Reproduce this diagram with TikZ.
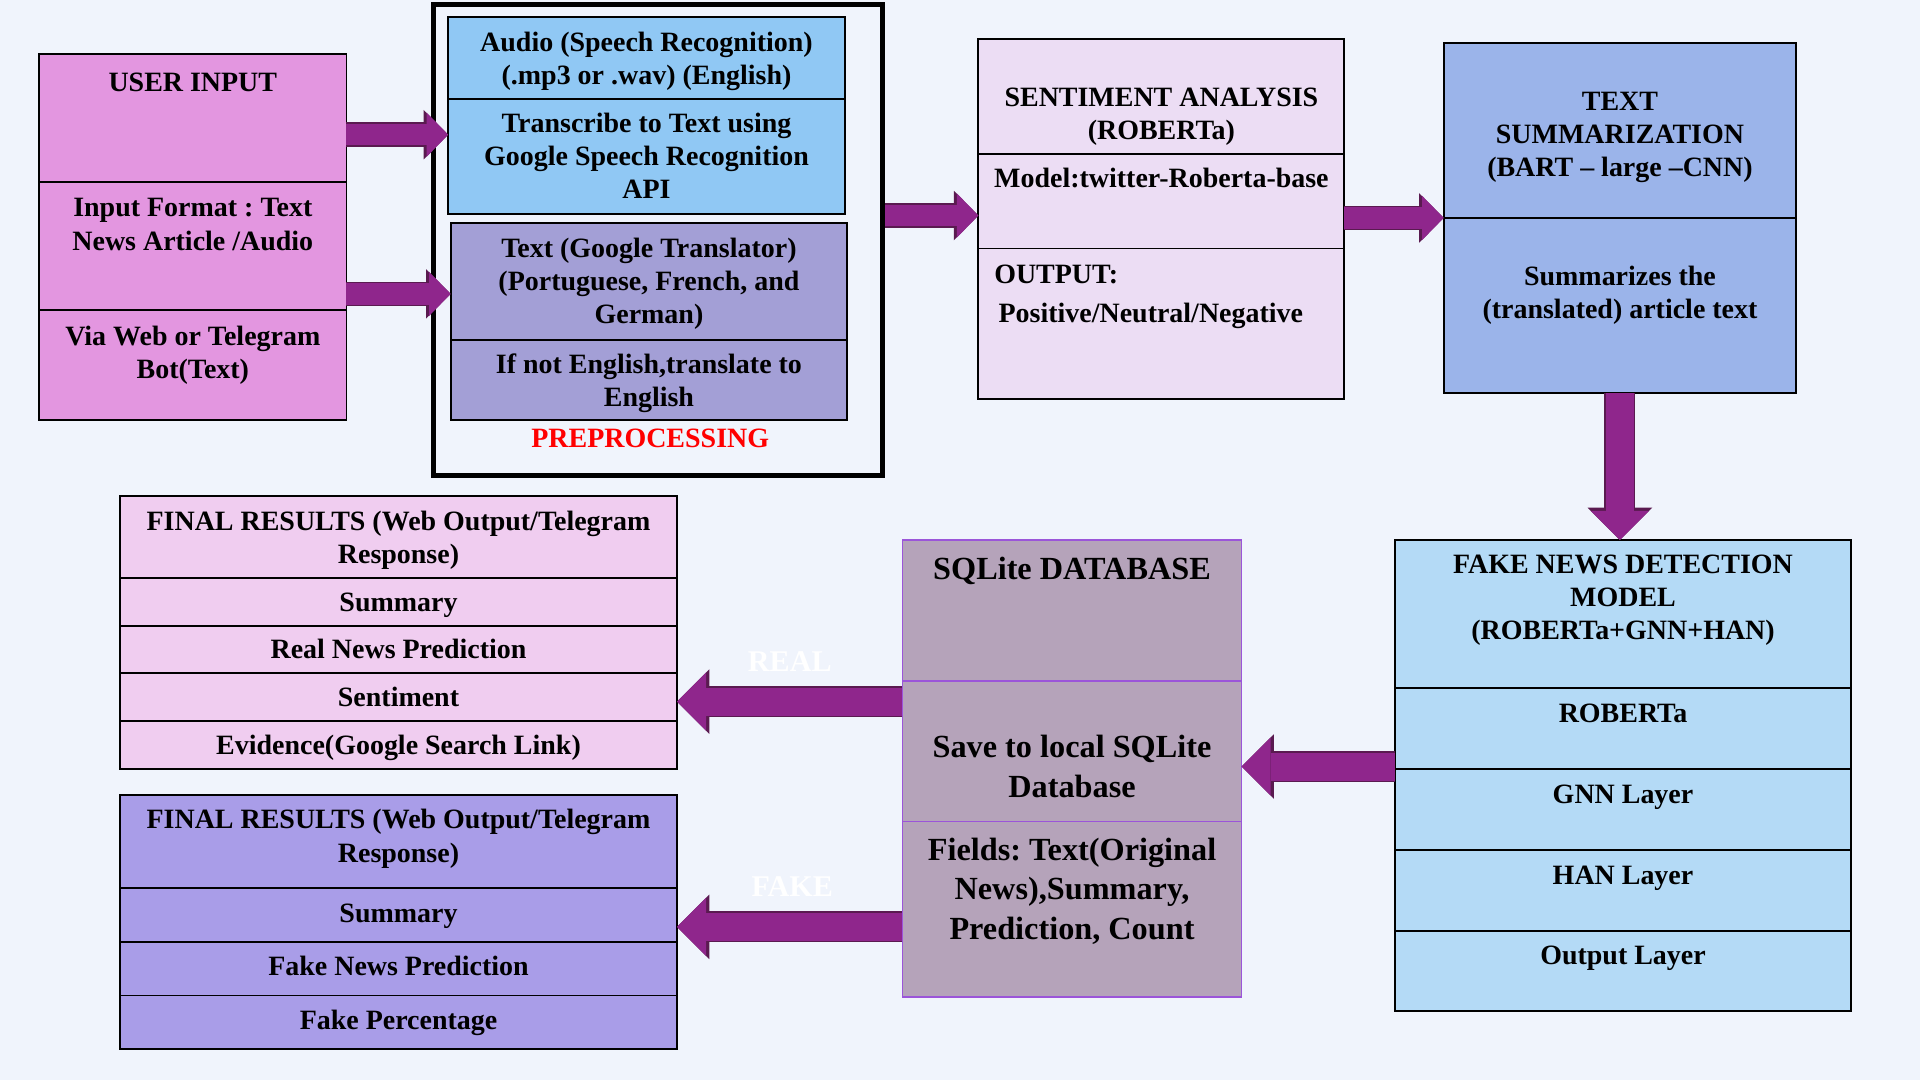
\documentclass[tikz,border=0pt]{standalone}
\usepackage{fontspec}
\setmainfont{Liberation Serif}
\usetikzlibrary{positioning, arrows.meta}
\frenchspacing

\definecolor{bgcol}{HTML}{F0F4FC}
\definecolor{usrcol}{HTML}{E396E0}
\definecolor{audcol}{HTML}{90C8F4}
\definecolor{trncol}{HTML}{A39FD6}
\definecolor{sntcol}{HTML}{ECDDF4}
\definecolor{sumcol}{HTML}{9BB4EA}
\definecolor{fndcol}{HTML}{B4DAF6}
\definecolor{dbcol}{HTML}{B5A3BA}
\definecolor{dbedge}{HTML}{9B55D9}
\definecolor{realcol}{HTML}{F0CDF0}
\definecolor{fakecol}{HTML}{A99DE8}
\definecolor{arrfill}{HTML}{8F268C}
\definecolor{arredge}{HTML}{5A1A50}

\newcommand{\boxfont}{\bfseries\fontsize{13}{15.5}\selectfont}
\newcommand{\dbfont}{\bfseries\fontsize{15}{18.2}\selectfont}

\tikzset{
  cell/.style n args={3}{draw, line width=0.9pt, anchor=north west, inner xsep=0pt, inner ysep=0pt, outer sep=0pt,
    align=flush center, text width=#1, text height=#2, text depth=#3, font=\boxfont},
  dbcell/.style={draw=dbedge, line width=0.8pt, fill=dbcol, font=\dbfont},
  flow/.style={line width=10pt, draw=arrfill, -{Triangle[length=10pt, width=20.5pt, line width=0pt]},
    preaction={draw=arredge, line width=11.4pt, -{Triangle[length=11.4pt, width=23pt, line width=0pt]}}},
  bigflow/.style={line width=13pt, draw=arrfill, -{Triangle[length=13.5pt, width=27pt, line width=0pt]},
    preaction={draw=arredge, line width=14.4pt, -{Triangle[length=15pt, width=30pt, line width=0pt]}}},
  tag/.style={font=\bfseries\fontsize{14}{16}\selectfont, text=white}
}

\begin{document}
\begin{tikzpicture}[x=0.02cm, y=-0.02cm]
    \fill[bgcol] (0,0) rectangle (1568,882);

    \node[draw, line width=2.3pt, minimum width=7.34cm, minimum height=7.68cm] (prep) at (537.5,196) {};

    \node[cell={5.02cm}{0.62cm}{1.48cm}, fill=usrcol] (usr1) at (32,44) {USER INPUT};
    \node[cell={5.02cm}{0.56cm}{1.52cm}, fill=usrcol, below=0pt of usr1] (usr2) {Input Format : Text\\News Article /Audio};
    \node[cell={5.02cm}{0.58cm}{1.22cm}, fill=usrcol, below=0pt of usr2] (usr3) {Via Web or Telegram\\Bot(Text)};

    \node[cell={6.48cm}{0.56cm}{0.78cm}, fill=audcol] (aud1) at (366,14) {Audio (Speech Recognition)\\(.mp3 or .wav) (English)};
    \node[cell={6.48cm}{0.54cm}{1.34cm}, fill=audcol, below=0pt of aud1] (aud2) {Transcribe to Text using\\Google Speech Recognition\\API};
    \node[cell={6.48cm}{0.56cm}{1.36cm}, fill=trncol] (trn1) at (368,182) {Text (Google Translator)\\(Portuguese, French, and\\German)};
    \node[cell={6.48cm}{0.54cm}{0.76cm}, fill=trncol, below=0pt of trn1] (trn2) {If not English,translate to\\English};
    \node[font=\boxfont, text=red] (preplbl) at (531,358) {PREPROCESSING};

    \node[cell={5.98cm}{1.10cm}{0.78cm}, fill=sntcol] (snt1) at (799,32) {SENTIMENT ANALYSIS\\(ROBERTa)};
    \node[cell={5.98cm}{0.54cm}{1.00cm}, fill=sntcol, below=0pt of snt1] (snt2) {Model:twitter-Roberta-base};
    \node[cell={5.46cm}{0.57cm}{1.89cm}, fill=sntcol, inner xsep=0.26cm, align=flush left, below=0pt of snt2] (snt3) {OUTPUT:\\[2.5pt]\hspace*{2pt}Positive/Neutral/Negative};

    \node[cell={5.76cm}{1.10cm}{1.76cm}, fill=sumcol] (sum1) at (1179,35) {TEXT\\SUMMARIZATION\\(BART – large –CNN)};
    \node[cell={5.76cm}{1.10cm}{1.76cm}, fill=sumcol, below=0pt of sum1] (sum2) {Summarizes the\\(translated) article text};

    \node[cell={7.46cm}{0.54cm}{1.88cm}, fill=fndcol] (fnd1) at (1139,441) {FAKE NEWS DETECTION\\MODEL\\(ROBERTa+GNN+HAN)};
    \node[cell={7.46cm}{0.56cm}{0.76cm}, fill=fndcol, below=0pt of fnd1] (fnd2) {ROBERTa};
    \node[cell={7.46cm}{0.56cm}{0.76cm}, fill=fndcol, below=0pt of fnd2] (fnd3) {GNN Layer};
    \node[cell={7.46cm}{0.56cm}{0.76cm}, fill=fndcol, below=0pt of fnd3] (fnd4) {HAN Layer};
    \node[cell={7.46cm}{0.56cm}{0.76cm}, fill=fndcol, below=0pt of fnd4] (fnd5) {Output Layer};

    \node[cell={5.54cm}{0.64cm}{1.66cm}, dbcell] (db1) at (737,441) {SQLite DATABASE};
    \node[cell={5.54cm}{1.26cm}{1.04cm}, dbcell, below=0pt of db1] (db2) {Save to local SQLite\\Database};
    \node[cell={5.54cm}{0.64cm}{2.22cm}, dbcell, below=0pt of db2] (db3) {Fields: Text(Original\\News),Summary,\\Prediction, Count};

    \node[cell={9.10cm}{0.56cm}{0.78cm}, fill=realcol] (real1) at (98,405) {FINAL RESULTS (Web Output/Telegram\\Response)};
    \node[cell={9.10cm}{0.54cm}{0.24cm}, fill=realcol, below=0pt of real1] (real2) {Summary};
    \node[cell={9.10cm}{0.54cm}{0.24cm}, fill=realcol, below=0pt of real2] (real3) {Real News Prediction};
    \node[cell={9.10cm}{0.54cm}{0.24cm}, fill=realcol, below=0pt of real3] (real4) {Sentiment};
    \node[cell={9.10cm}{0.54cm}{0.24cm}, fill=realcol, below=0pt of real4] (real5) {Evidence(Google Search Link)};

    \node[cell={9.10cm}{0.56cm}{0.96cm}, fill=fakecol] (fake1) at (98,649) {FINAL RESULTS (Web Output/Telegram\\Response)};
    \node[cell={9.10cm}{0.56cm}{0.32cm}, fill=fakecol, below=0pt of fake1] (fake2) {Summary};
    \node[cell={9.10cm}{0.56cm}{0.32cm}, fill=fakecol, below=0pt of fake2] (fake3) {Fake News Prediction};
    \node[cell={9.10cm}{0.56cm}{0.32cm}, fill=fakecol, below=0pt of fake3] (fake4) {Fake Percentage};

    \node[tag] (reallbl) at (645,540) {REAL};
    \node[tag] (fakelbl) at (647,724) {FAKE};

    \draw[flow] (usr1.east |- 0,110) -- (aud2.west |- 0,110);
    \draw[flow] (usr2.east |- 0,240) -- (trn1.west |- 0,240);
    \draw[flow] (prep.east |- 0,176) -- (snt2.west |- 0,176);
    \draw[flow] (snt2.east |- sum2.north west) -- (sum2.north west);
    \draw[bigflow] (sum2.south) -- (sum2.south |- fnd1.north);
    \draw[bigflow] (fnd2.west |- 0,626) -- (db2.east |- 0,626);
    \draw[bigflow] (db2.west |- 0,573) -- (real4.east |- 0,573);
    \draw[bigflow] (db3.west |- 0,757) -- (fake2.east |- 0,757);
\end{tikzpicture}
\end{document}
